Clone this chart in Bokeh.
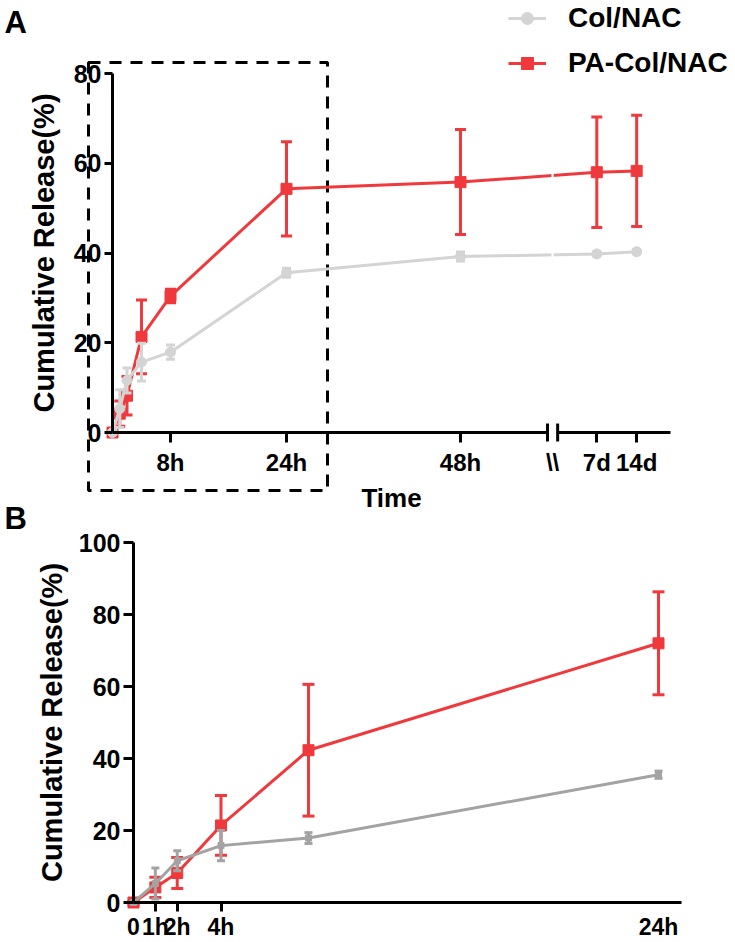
from bokeh.plotting import figure
from bokeh.models import (Range1d, LinearAxis, FixedTicker, ColumnDataSource,
                          Legend, LegendItem, Label)
from bokeh.embed import file_html
from bokeh.resources import INLINE

# ---------------- data ----------------
# Panel A : release up to 14 days (broken time axis)
time_labels_A = ["0", "1h", "2h", "4h", "8h", "24h", "48h", "7d", "14d"]
time_pos_A = [0, 1, 2, 4, 8, 24, 48, 66.8, 72.3]      # position on broken axis (h)
col_mean_A = [0, 5.3, 11.6, 15.7, 17.9, 35.6, 39.2, 39.8, 40.3]
col_sd_A = [0.3, 4.2, 2.8, 4.2, 1.6, 1.0, 1.0, 0.5, 0.5]
pa_mean_A = [0, 4.2, 8.2, 21.3, 30.4, 54.3, 55.8, 58.0, 58.3]
pa_sd_A = [0.4, 2.8, 4.3, 8.2, 1.5, 10.5, 11.7, 12.3, 12.4]
x_ticks_A = [8, 24, 48]
x_tick_labels_A = ["8h", "24h", "48h"]
x_ticks_A2 = [66.8, 72.3]
x_tick_labels_A2 = ["7d", "14d"]
y_ticks_A = [0, 20, 40, 60, 80]

# Panel B : first 24 h
time_pos_B = [0, 1, 2, 4, 8, 24]
col_mean_B = [0, 5.3, 11.6, 15.8, 17.9, 35.5]
col_sd_B = [0.3, 4.3, 2.8, 4.2, 1.5, 1.0]
pa_mean_B = [0, 4.2, 8.2, 21.4, 42.3, 72.0]
pa_sd_B = [0.5, 2.8, 4.3, 8.3, 18.3, 14.3]
x_ticks_B = [1, 2, 4]                 # ticks with marks
x_tick_labels_B = ["1h", "2h", "4h"]
x_ticks_B_plain = [0, 24]             # labels without tick marks
x_tick_labels_B_plain = ["0", "24h"]
y_ticks_B = [0, 20, 40, 60, 80, 100]

# ---------------- layout / style ----------------
W, H = 735, 942
RED = "#F0393C"
LGRAY = "#D4D4D4"
DGRAY = "#A3A3A3"
FONT = "Liberation Sans"

# pixel placement of each panel's origin and scale
A_X0, A_XPER, A_Y0, A_YPER = 112, 7.25, 432, 4.4875
B_X0, B_XPER, B_Y0, B_YPER = 133, 21.875, 902, 3.6


def xr(x0, per):
    return Range1d((0 - x0) / per, (W - x0) / per)


def yr(y0, per):
    return Range1d((y0 - H) / per, (y0 - 0) / per)


p = figure(width=W, height=H, x_range=xr(A_X0, A_XPER), y_range=yr(A_Y0, A_YPER),
           extra_x_ranges={"xb": xr(B_X0, B_XPER)},
           extra_y_ranges={"yb": yr(B_Y0, B_YPER)},
           x_axis_type=None, y_axis_type=None, toolbar_location=None,
           output_backend="svg", min_border=0, title=None)
p.outline_line_color = None
p.background_fill_color = "white"
p.border_fill_color = "white"


def style_axis(ax, tick_out, standoff, size):
    ax.axis_line_width = 3
    ax.axis_line_color = "black"
    ax.major_tick_line_width = 3
    ax.major_tick_line_color = "black"
    ax.major_tick_out = tick_out
    ax.major_tick_in = 0
    ax.minor_tick_line_color = None
    ax.major_label_text_font = FONT
    ax.major_label_text_font_style = "bold"
    ax.major_label_text_font_size = size
    ax.major_label_text_color = "black"
    ax.major_label_standoff = standoff
    ax.axis_label_text_font = FONT
    ax.axis_label_text_font_style = "bold"
    ax.axis_label_text_font_size = "29px"
    ax.axis_label_text_color = "black"


def series(x, mean, sd, color, marker, msize, cap, **rng):
    lower = [m - s for m, s in zip(mean, sd)]
    upper = [m + s for m, s in zip(mean, sd)]
    src = ColumnDataSource(dict(x=x, y=mean, lo=lower, hi=upper))
    p.segment(x0="x", y0="lo", x1="x", y1="hi", source=src, line_color=color,
              line_width=3, **rng)
    p.scatter(x="x", y="lo", source=src, marker="dash", size=cap, line_color=color,
              line_width=3, **rng)
    p.scatter(x="x", y="hi", source=src, marker="dash", size=cap, line_color=color,
              line_width=3, **rng)
    ln = p.line(x="x", y="y", source=src, line_color=color, line_width=3, **rng)
    mk = p.scatter(x="x", y="y", source=src, marker=marker, size=msize,
                   fill_color=color, line_color=color, **rng)
    return ln, mk


# ================= Panel A =================
# dashed box marking the region enlarged in panel B (page px -> data)
box_px = dict(left=88, right=327, top=62, bottom=490)
p.quad(left=[(box_px["left"] - A_X0) / A_XPER], right=[(box_px["right"] - A_X0) / A_XPER],
       top=[(A_Y0 - box_px["top"]) / A_YPER], bottom=[(A_Y0 - box_px["bottom"]) / A_YPER],
       fill_alpha=0, line_color="black", line_width=3, line_dash="12 9")

rlA, rmA = series(time_pos_A, pa_mean_A, pa_sd_A, RED, "square", 11, 11)
glA, gmA = series(time_pos_A, col_mean_A, col_sd_A, LGRAY, "circle", 10, 9)

# break of the time axis
brk = [60.0, 61.4]
p.quad(left=[60.55], right=[60.85], bottom=[30], top=[65], fill_color="white", line_color=None)
p.segment(x0=brk, x1=brk, y0=[-2, -2], y1=[2, 2], line_color="black", line_width=3)

yA = LinearAxis(fixed_location=0, bounds=(0, 80), ticker=FixedTicker(ticks=y_ticks_A),
                axis_label="Cumulative Release(%)")
style_axis(yA, 8, 3, "25px")
yA.axis_label_standoff = 11
p.add_layout(yA, "left")

xA1 = LinearAxis(fixed_location=0, bounds=(0, brk[0]), ticker=FixedTicker(ticks=x_ticks_A),
                 major_label_overrides=dict(zip(x_ticks_A, x_tick_labels_A)))
style_axis(xA1, 10, 6, "24px")
p.add_layout(xA1, "below")

xA2 = LinearAxis(fixed_location=0, bounds=(brk[1], 77), ticker=FixedTicker(ticks=x_ticks_A2),
                 major_label_overrides=dict(zip(x_ticks_A2, x_tick_labels_A2)))
style_axis(xA2, 10, 6, "24px")
p.add_layout(xA2, "below")

brk_mid = (brk[0] + brk[1]) / 2
xA3 = LinearAxis(fixed_location=0, bounds=(brk[0], brk[1]), ticker=FixedTicker(ticks=[brk_mid]),
                 major_label_overrides={brk_mid: "\\\\"})
style_axis(xA3, 10, 6, "24px")
xA3.axis_line_color = None
xA3.major_tick_line_color = None
p.add_layout(xA3, "below")

xA4 = LinearAxis(fixed_location=0, bounds=(0, 77), ticker=FixedTicker(ticks=[]),
                 axis_label="Time")
style_axis(xA4, 0, 0, "24px")
xA4.axis_line_color = None
xA4.axis_label_text_font_size = "26px"
xA4.axis_label_standoff = 50
p.add_layout(xA4, "below")

legend = Legend(items=[LegendItem(label="Col/NAC", renderers=[glA, gmA]),
                       LegendItem(label="PA-Col/NAC", renderers=[rlA, rmA])],
                location=(508, H - 79), orientation="vertical")
legend.label_text_font = FONT
legend.label_text_font_style = "bold"
legend.label_text_font_size = "28px"
legend.label_text_color = "black"
legend.glyph_width = 38
legend.glyph_height = 30
legend.label_height = 30
legend.spacing = 13
legend.label_standoff = 22
legend.padding = 0
legend.margin = 0
legend.border_line_color = None
legend.background_fill_alpha = 0
p.add_layout(legend)

p.add_layout(Label(x=4, y=H - 22, x_units="screen", y_units="screen", text="A",
                   text_font=FONT, text_font_style="bold", text_font_size="31px",
                   text_color="black", text_baseline="alphabetic"))

# ================= Panel B =================
rngB = dict(x_range_name="xb", y_range_name="yb")
series(time_pos_B, pa_mean_B, pa_sd_B, RED, "square", 11, 12, **rngB)
series(time_pos_B, col_mean_B, col_sd_B, DGRAY, "square", 6, 8, **rngB)

yB = LinearAxis(fixed_location=0, bounds=(0, 100), ticker=FixedTicker(ticks=y_ticks_B),
                axis_label="Cumulative Release(%)", **rngB)
style_axis(yB, 10, 3, "25px")
yB.axis_label_standoff = 8
p.add_layout(yB, "left")

xB = LinearAxis(fixed_location=0, bounds=(0, 25.05), ticker=FixedTicker(ticks=x_ticks_B),
                major_label_overrides=dict(zip(x_ticks_B, x_tick_labels_B)), **rngB)
style_axis(xB, 9, 2, "23px")
p.add_layout(xB, "below")

xB2 = LinearAxis(fixed_location=0, bounds=(0, 25.05), ticker=FixedTicker(ticks=x_ticks_B_plain),
                 major_label_overrides=dict(zip(x_ticks_B_plain, x_tick_labels_B_plain)),
                 **rngB)
style_axis(xB2, 9, 2, "23px")
xB2.axis_line_color = None
xB2.major_tick_line_color = None
p.add_layout(xB2, "below")

p.add_layout(Label(x=4, y=H - 518, x_units="screen", y_units="screen", text="B",
                   text_font=FONT, text_font_style="bold", text_font_size="31px",
                   text_color="black", text_baseline="alphabetic"))

open("out.html", "w").write(file_html(p, INLINE))
